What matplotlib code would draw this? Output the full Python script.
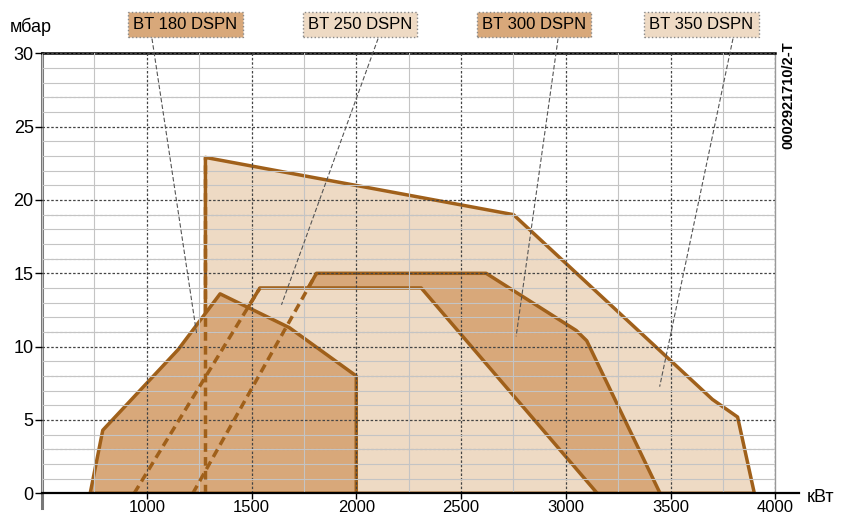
import matplotlib.pyplot as plt
import numpy as np

plt.rcParams['font.family'] = ['Liberation Sans', 'DejaVu Sans']

# burner working fields: power (kW) vs. combustion chamber pressure (mbar)
bt180_kw = [730, 790, 1150, 1350, 1680, 2000, 2000]
bt180_mbar = [0, 4.3, 9.8, 13.6, 11.3, 8.0, 0]
bt250_kw = [940, 1540, 2310, 3150]
bt250_mbar = [0, 14, 14, 0]
bt300_kw = [1220, 1810, 2620, 3050, 3100, 3450]
bt300_mbar = [0, 15, 15, 11.1, 10.4, 0]
bt350_kw = [1280, 1280, 2750, 3700, 3820, 3900]
bt350_mbar = [0, 22.9, 19, 6.4, 5.2, 0]

names = ['BT 180 DSPN', 'BT 250 DSPN', 'BT 300 DSPN', 'BT 350 DSPN']
label_kw = [1185, 2018, 2848, 3648]
leader_start_kw = [1025, 2104, 2963, 3798]
leader_end_kw = [1239, 1643, 2763, 3448]
leader_end_mbar = [10.8, 12.85, 10.7, 7.27]

x_ticks = [1000, 1500, 2000, 2500, 3000, 3500, 4000]
y_ticks = [0, 5, 10, 15, 20, 25, 30]
dashed_rows = [3, 8, 11, 16, 19, 27]

light = '#EEDAC4'
dark = '#D8A87A'
edge = '#A0601A'

fig = plt.figure(figsize=(8.44, 5.2), dpi=100)
ax = fig.add_axes([42 / 844, 26.7 / 520, 733.3 / 844, 440 / 520])

fields = [(bt350_kw, bt350_mbar, light),
          (bt300_kw, bt300_mbar, dark),
          (bt250_kw, bt250_mbar, light),
          (bt180_kw, bt180_mbar, dark)]

for i, (kw, mb, fc) in enumerate(fields):
    ax.fill(kw, mb, facecolor=fc, edgecolor=edge, linewidth=2.5,
            joinstyle='round', zorder=1 + 0.1 * i)

# hidden left borders drawn dashed
for kw, mb, fc in fields[:3]:
    ax.plot(kw[:2], mb[:2], color=edge, lw=2.5, ls=(0, (2.5, 1.5)), zorder=4)

ax.set_xlim(500, 4000)
ax.set_ylim(0, 30)
ax.set_xticks(x_ticks)
ax.set_xticks(np.arange(500, 4001, 250), minor=True)
ax.set_yticks(y_ticks)
ax.set_yticks(np.arange(0, 31, 1), minor=True)

ax.set_axisbelow(False)
ax.grid(which='minor', color='#c4c4c4', lw=0.8)
ax.grid(which='major', color='#444444', lw=0.9, ls=(0, (2, 1.5)))
for r in dashed_rows:
    ax.axhline(r, color='#888888', lw=0.8, ls=(0, (2, 2)), zorder=2.5)

ax.tick_params(which='minor', length=0)
ax.tick_params(axis='x', which='major', direction='out', length=4, width=1,
               labelsize=12, pad=1)
ax.tick_params(axis='y', which='major', direction='out', length=5, width=1,
               labelsize=13, pad=1)

ax.spines['left'].set_color('#777777')
ax.spines['left'].set_linewidth(2.2)
ax.spines['left'].set_bounds(-1, 30)
ax.spines['top'].set_color('black')
ax.spines['top'].set_linewidth(1.8)
ax.spines['right'].set_color('#999999')
ax.spines['right'].set_linewidth(1)
ax.spines['bottom'].set_color('black')
ax.spines['bottom'].set_linewidth(1.6)
ax.spines['bottom'].set_bounds(500, 4115)
ax.spines['bottom'].set_zorder(5)

for i, name in enumerate(names):
    fc = dark if i % 2 == 0 else light
    ax.plot([leader_start_kw[i], leader_end_kw[i]], [31.0, leader_end_mbar[i]],
            color='#555555', lw=0.8, ls=(0, (4, 2)), zorder=4.5, clip_on=False)
    ax.text(label_kw[i], 31.93, name, ha='center', va='center', fontsize=12,
            bbox=dict(boxstyle='square,pad=0.3', fc=fc, ec='#888888', ls=':', lw=1),
            zorder=6, clip_on=False)

fig.text(10 / 844, 1 - 26.7 / 520, 'мбар', ha='left', va='center', fontsize=13)
fig.text(807 / 844, 1 - 497 / 520, 'кВт', ha='left', va='center', fontsize=13)
fig.text(788 / 844, 1 - 95 / 520, '0002921710/2-T', rotation=90, ha='center',
         va='center', fontsize=10.5, fontweight='bold')

fig.savefig('out.png', dpi=100)
